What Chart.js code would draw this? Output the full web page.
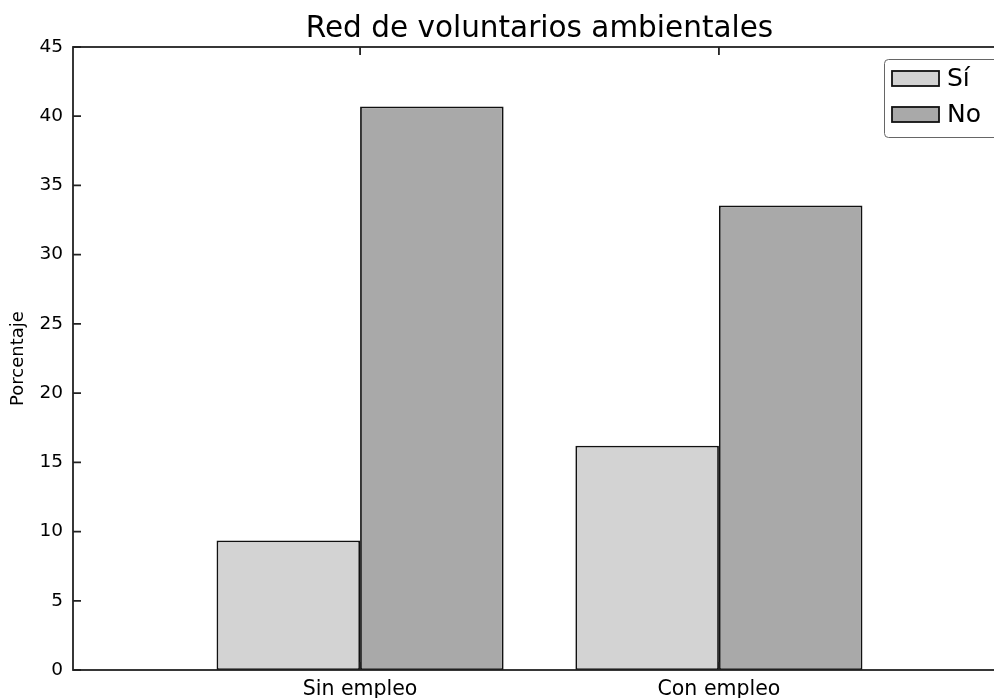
<!DOCTYPE html>
<html>
<head>
<meta charset="utf-8">
<script src="https://cdn.jsdelivr.net/npm/chart.js@4.4.1/dist/chart.umd.min.js"></script>
<style>
  html, body { margin: 0; padding: 0; background: #ffffff; overflow: hidden; }
  #wrap { position: relative; width: 1006px; height: 698px; }
</style>
</head>
<body>
<div id="wrap"><canvas id="c"></canvas></div>
<script>
const titleText = 'Red de voluntarios ambientales';
const categories = ['Sin empleo', 'Con empleo'];
const seriesNames = ['Sí', 'No'];
const siValues = [9.35, 16.2];
const noValues = [40.7, 33.55];
const yTicks = [0, 5, 10, 15, 20, 25, 30, 35, 40, 45];
const colors = ['#d3d3d3', '#a9a9a9'];

const FONT = "'DejaVu Sans', sans-serif";

function toPoints(vals) {
  return vals.map((v, i) => ({ x: i, y: v }));
}

const titlePlugin = {
  id: 'areaTitle',
  afterDraw(chart) {
    const { ctx, chartArea: a } = chart;
    ctx.save();
    ctx.fillStyle = '#000';
    ctx.font = '29.5px ' + FONT;
    ctx.textAlign = 'center';
    ctx.textBaseline = 'alphabetic';
    ctx.fillText(titleText, (a.left + a.right) / 2, a.top - 10.5);
    ctx.restore();
  }
};

const framePlugin = {
  id: 'frame',
  afterDatasetsDraw(chart) {
    const { ctx, chartArea: a, scales } = chart;
    ctx.save();
    ctx.strokeStyle = '#222';
    ctx.lineWidth = 1.8;
    ctx.beginPath();
    scales.y.ticks.forEach(t => {
      const py = scales.y.getPixelForValue(t.value);
      ctx.moveTo(a.left, py); ctx.lineTo(a.left + 8, py);
      ctx.moveTo(a.right, py); ctx.lineTo(a.right - 8, py);
    });
    scales.x.ticks.forEach(t => {
      const px = scales.x.getPixelForValue(t.value);
      ctx.moveTo(px, a.top); ctx.lineTo(px, a.top + 8);
      ctx.moveTo(px, a.bottom); ctx.lineTo(px, a.bottom - 8);
    });
    ctx.stroke();
    ctx.strokeRect(a.left, a.top, a.right - a.left, a.bottom - a.top);
    ctx.restore();
  }
};

const legendPlugin = {
  id: 'boxLegend',
  afterDraw(chart) {
    const { ctx, chartArea: a } = chart;
    const x0 = a.right - 122, y0 = a.top + 12, w = 140, h = 78, r = 4;
    ctx.save();
    ctx.fillStyle = '#ffffff';
    ctx.strokeStyle = '#666';
    ctx.lineWidth = 1;
    ctx.beginPath();
    ctx.roundRect(x0 + 0.5, y0 + 0.5, w, h, r);
    ctx.fill();
    ctx.stroke();
    seriesNames.forEach((name, i) => {
      const sy = y0 + 12 + i * 36;
      ctx.fillStyle = colors[i];
      ctx.fillRect(x0 + 8, sy, 47, 15);
      ctx.strokeStyle = '#111';
      ctx.lineWidth = 1.8;
      ctx.strokeRect(x0 + 8, sy, 47, 15);
      ctx.fillStyle = '#000';
      ctx.font = '25px ' + FONT;
      ctx.textBaseline = 'middle';
      ctx.textAlign = 'left';
      ctx.fillText(name, x0 + 63, sy + 8);
    });
    ctx.restore();
  }
};

new Chart(document.getElementById('c'), {
  type: 'bar',
  data: {
    datasets: [
      { label: seriesNames[0], data: toPoints(siValues), backgroundColor: colors[0] },
      { label: seriesNames[1], data: toPoints(noValues), backgroundColor: colors[1] }
    ]
  },
  options: {
    responsive: true,
    maintainAspectRatio: false,
    animation: false,
    layout: { padding: { top: 47, left: 0, right: 0, bottom: 0 } },
    datasets: {
      bar: {
        categoryPercentage: 0.8,
        barPercentage: 1.0,
        borderColor: '#111',
        borderWidth: 1.8,
        borderSkipped: false
      }
    },
    plugins: {
      legend: { display: false },
      tooltip: { enabled: false },
      title: { display: false }
    },
    scales: {
      x: {
        type: 'linear',
        min: -0.8,
        max: 1.8,
        offset: false,
        grid: { display: false, drawTicks: false },
        border: { display: false },
        afterBuildTicks: s => { s.ticks = categories.map((c, i) => ({ value: i })); },
        afterFit: s => { s.height = 28; },
        ticks: {
          padding: 7,
          color: '#000',
          font: { family: FONT, size: 20.5 },
          callback: v => categories[v]
        }
      },
      y: {
        min: 0,
        max: 45,
        grid: { display: false, drawTicks: false },
        border: { display: false },
        afterBuildTicks: s => { s.ticks = yTicks.map(v => ({ value: v })); },
        afterFit: s => { s.width = 73; },
        ticks: {
          padding: 10,
          color: '#000',
          font: { family: FONT, size: 18.5 }
        },
        title: {
          display: true,
          text: 'Porcentaje',
          color: '#000',
          font: { family: FONT, size: 18 },
          padding: { top: 8, bottom: 0 }
        }
      }
    }
  },
  plugins: [framePlugin, legendPlugin, titlePlugin]
});
</script>
</body>
</html>
